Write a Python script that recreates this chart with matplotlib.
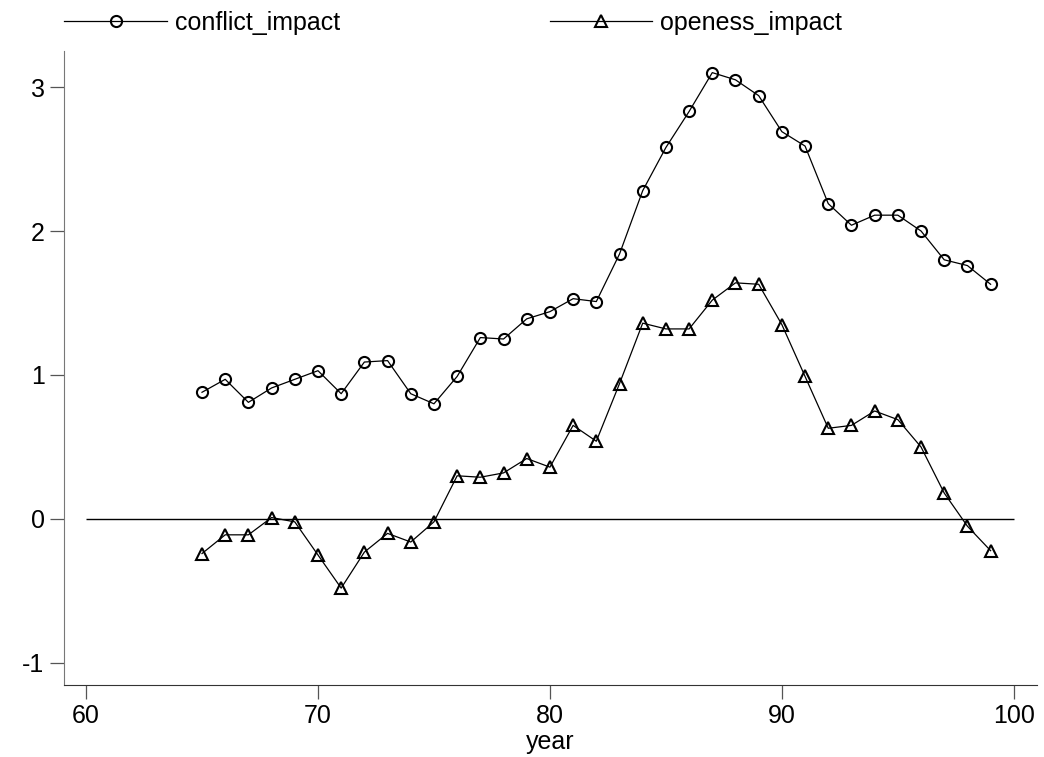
import matplotlib
matplotlib.use('Agg')

import numpy as np
import matplotlib.pyplot as plt

plt.rcParams['font.family'] = ['Liberation Sans', 'DejaVu Sans']
plt.rcParams['axes.unicode_minus'] = False

# datos
year = list(range(65, 100))
conflict_impact = [0.88, 0.97, 0.81, 0.91, 0.97, 1.03, 0.87, 1.09, 1.10, 0.87,
                   0.80, 0.99, 1.26, 1.25, 1.39, 1.44, 1.53, 1.51, 1.84, 2.28,
                   2.58, 2.83, 3.10, 3.05, 2.94, 2.69, 2.59, 2.19, 2.04, 2.11,
                   2.11, 2.00, 1.80, 1.76, 1.63]
openess_impact = [-0.24, -0.11, -0.11, 0.01, -0.02, -0.25, -0.48, -0.23, -0.10, -0.16,
                  -0.02, 0.30, 0.29, 0.32, 0.42, 0.36, 0.65, 0.54, 0.94, 1.36,
                  1.32, 1.32, 1.52, 1.64, 1.63, 1.35, 0.99, 0.63, 0.65, 0.75,
                  0.69, 0.50, 0.18, -0.05, -0.22]

xticks = [60, 70, 80, 90, 100]
yticks = [-1, 0, 1, 2, 3]

fig = plt.figure(figsize=(10.44, 7.57), dpi=100)
ax = fig.add_axes([0.0613, 0.0951, 0.932, 0.8375])

ax.plot(year, conflict_impact, color='black', lw=0.9, marker='o', ms=8,
        mfc='none', mec='black', mew=1.5, label='conflict_impact')
ax.plot(year, openess_impact, color='black', lw=0.9, marker='^', ms=8.5,
        mfc='none', mec='black', mew=1.5, label='openess_impact')
ax.hlines(0, 60, 100, color='black', lw=1.0)

ax.set_xlim(59.05, 101.0)
ax.set_ylim(-1.153, 3.25)
ax.set_xticks(xticks)
ax.set_yticks(yticks)
ax.tick_params(axis='both', labelsize=18, length=10, width=0.9, pad=4, color='#555555')
ax.set_xlabel('year', fontsize=18, labelpad=1)

for s in ['top', 'right']:
    ax.spines[s].set_visible(False)
ax.spines['left'].set_color('#777777')
ax.spines['bottom'].set_color('#333333')

leg = fig.legend(loc='center left', bbox_to_anchor=(0.052, 0.970), ncol=2,
                 frameon=False, fontsize=18, handlelength=4.1, handletextpad=0.32,
                 columnspacing=8.4, numpoints=1, borderaxespad=0)

fig.savefig('out.png', dpi=100)
